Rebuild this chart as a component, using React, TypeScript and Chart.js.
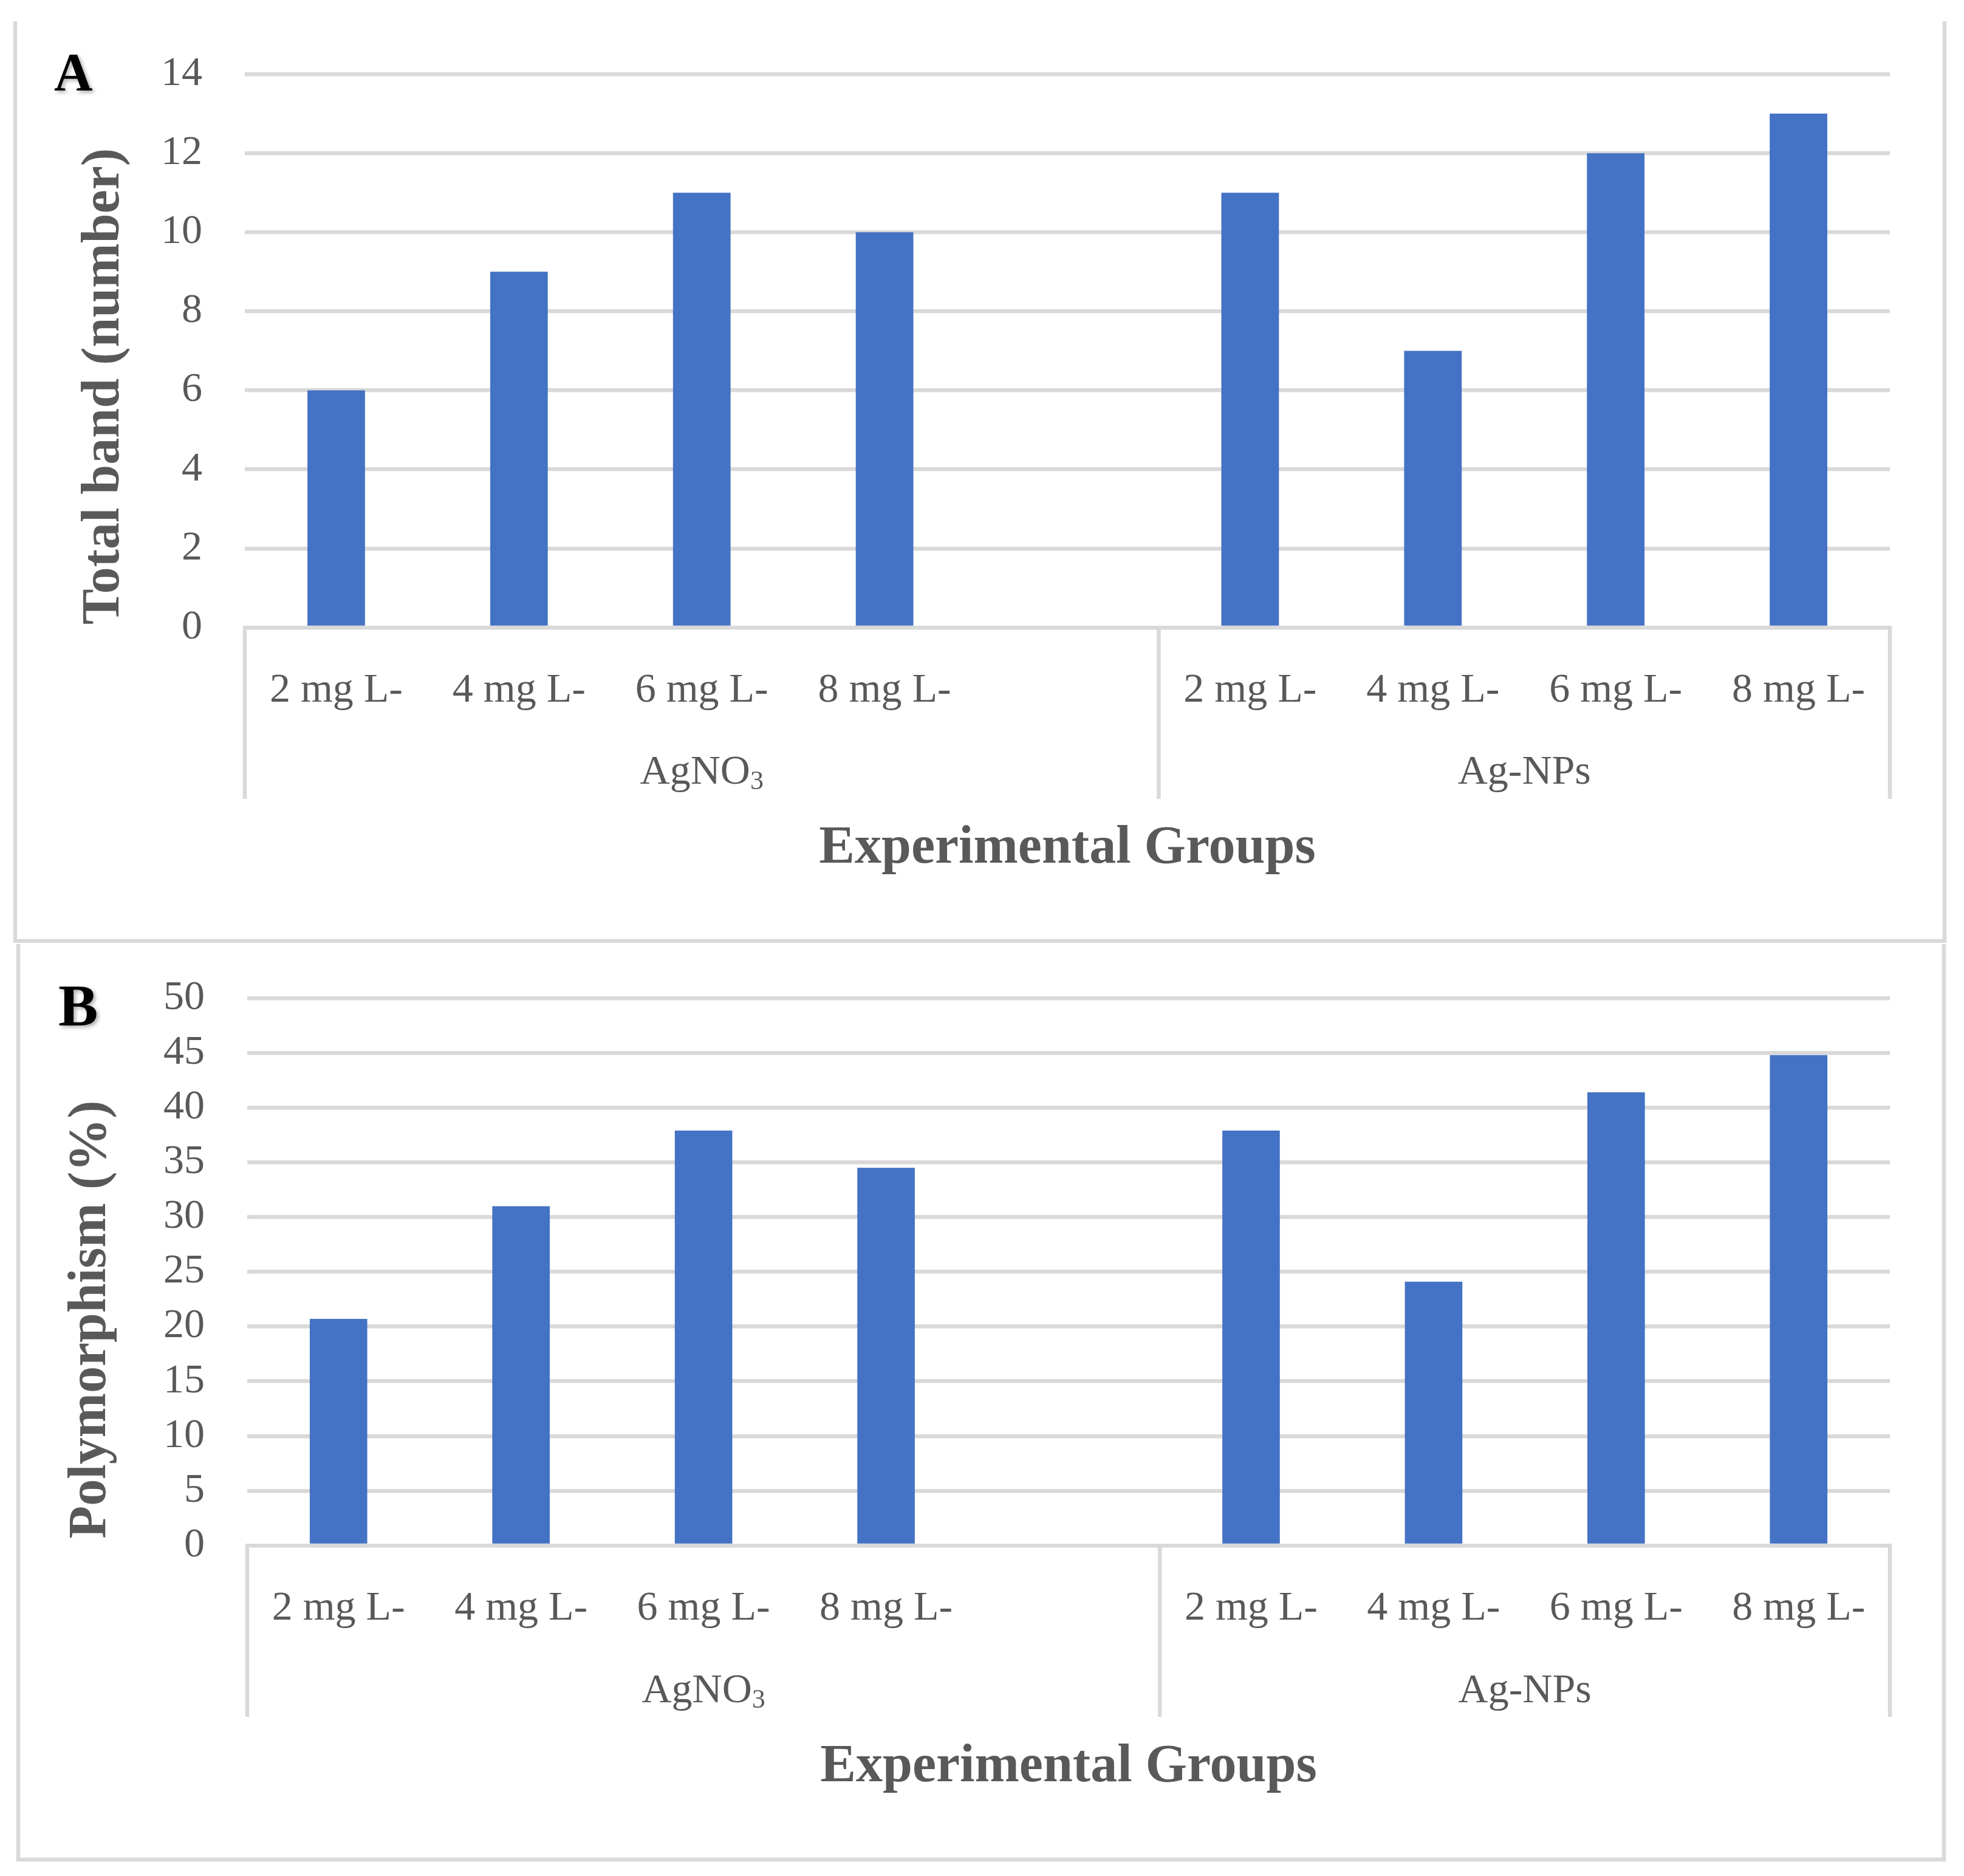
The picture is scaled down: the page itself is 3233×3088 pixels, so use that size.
import React, { useEffect, useRef } from "react";
import { Chart, registerables } from "chart.js";

Chart.register(...registerables);

// ---------- data ----------
const categories = ["2 mg L-", "4 mg L-", "6 mg L-", "8 mg L-", "", "2 mg L-", "4 mg L-", "6 mg L-", "8 mg L-"];
const groupNames = ["AgNO", "Ag-NPs"];
const groupSubscripts = ["3", ""];
const groupSizes = [5, 4];
const totalBand = [6, 9, 11, 10, null, 11, 7, 12, 13];
const polymorphism = [20.7, 31.0, 37.9, 34.5, null, 37.9, 24.1, 41.4, 44.8];
const yTicksA = [0, 2, 4, 6, 8, 10, 12, 14];
const yTicksB = [0, 5, 10, 15, 20, 25, 30, 35, 40, 45, 50];

const W = 3233;
const GRID = "#d9d9d9";
const TEXT = "#595959";
const BAR = "#4472C4";
const FONT = "'Liberation Serif', 'Times New Roman', serif";
const TICK_SIZE = 68;
const TITLE_SIZE = 88;

type Panel = {
  key: string;
  top: number;
  height: number;
  area: { left: number; right: number; top: number; bottom: number };
  ticks: number[];
  values: (number | null)[];
  yTitle: string;
  yTitleX: number;
  yTitleY: number;
  letter: string;
  letterX: number;
  letterBase: number;
  letterSize: number;
  groupBase: number;
  titleBase: number;
  sepLen: number;
  border: { left: number; right: number; top: number; bottom: number };
};

const panels: Panel[] = [
  {
    key: "A",
    top: 0,
    height: 1552,
    area: { left: 403, right: 3111, top: 122, bottom: 1033 },
    ticks: yTicksA,
    values: totalBand,
    yTitle: "Total band (number)",
    yTitleX: 195,
    yTitleY: 636,
    letter: "A",
    letterX: 89,
    letterBase: 148,
    letterSize: 88,
    groupBase: 1290,
    titleBase: 1420,
    sepLen: 282,
    border: { left: 25, right: 3201, top: 35, bottom: 1549 },
  },
  {
    key: "B",
    top: 1552,
    height: 1536,
    area: { left: 407, right: 3111, top: 91, bottom: 992 },
    ticks: yTicksB,
    values: polymorphism,
    yTitle: "Polymorphism (%)",
    yTitleX: 173,
    yTitleY: 620,
    letter: "B",
    letterX: 96,
    letterBase: 136,
    letterSize: 98,
    groupBase: 1250,
    titleBase: 1380,
    sepLen: 282,
    border: { left: 30, right: 3200, top: 2, bottom: 1509 },
  },
];

function decor(p: Panel) {
  return {
    id: "decor" + p.key,
    afterDraw(chart: any) {
      const ctx = chart.ctx as CanvasRenderingContext2D;
      const x = chart.scales.x;
      const { left, right, bottom } = chart.chartArea;
      ctx.save();
      // group separators
      ctx.strokeStyle = GRID;
      ctx.lineWidth = 6.5;
      const bounds: number[] = [x.getPixelForValue(-0.5)];
      let idx = 0;
      groupSizes.forEach((s) => {
        idx += s;
        bounds.push(x.getPixelForValue(idx - 0.5));
      });
      bounds.forEach((bx) => {
        ctx.beginPath();
        ctx.moveTo(bx, bottom - 3);
        ctx.lineTo(bx, bottom + p.sepLen);
        ctx.stroke();
      });
      // group labels
      ctx.fillStyle = TEXT;
      ctx.textBaseline = "alphabetic";
      ctx.textAlign = "left";
      groupNames.forEach((g, i) => {
        const cx = (bounds[i] + bounds[i + 1]) / 2;
        ctx.font = `${TICK_SIZE}px ${FONT}`;
        const w1 = ctx.measureText(g).width;
        ctx.font = `44px ${FONT}`;
        const w2 = groupSubscripts[i] ? ctx.measureText(groupSubscripts[i]).width : 0;
        const sx = cx - (w1 + w2) / 2;
        ctx.font = `${TICK_SIZE}px ${FONT}`;
        ctx.fillText(g, sx, p.groupBase);
        if (groupSubscripts[i]) {
          ctx.font = `44px ${FONT}`;
          ctx.fillText(groupSubscripts[i], sx + w1, p.groupBase + 9);
        }
      });
      // x title
      ctx.font = `bold ${TITLE_SIZE}px ${FONT}`;
      ctx.textAlign = "center";
      ctx.fillText("Experimental Groups", (left + right) / 2, p.titleBase);
      // y title
      ctx.save();
      ctx.translate(p.yTitleX, p.yTitleY);
      ctx.rotate(-Math.PI / 2);
      ctx.textAlign = "center";
      ctx.fillText(p.yTitle, 0, 0);
      ctx.restore();
      // panel letter
      ctx.save();
      ctx.font = `bold ${p.letterSize}px ${FONT}`;
      ctx.fillStyle = "#000000";
      ctx.textAlign = "left";
      ctx.shadowColor = "rgba(0,0,0,0.35)";
      ctx.shadowBlur = 6;
      ctx.shadowOffsetX = 3;
      ctx.shadowOffsetY = 3;
      ctx.fillText(p.letter, p.letterX, p.letterBase);
      ctx.restore();
      // outer border
      ctx.strokeStyle = GRID;
      ctx.lineWidth = 6.5;
      const b = p.border;
      ctx.beginPath();
      ctx.moveTo(b.left, b.top);
      ctx.lineTo(b.left, b.bottom);
      ctx.lineTo(b.right, b.bottom);
      ctx.lineTo(b.right, b.top);
      ctx.stroke();
      ctx.restore();
    },
  };
}

function PanelChart({ p }: { p: Panel }) {
  const ref = useRef<HTMLCanvasElement | null>(null);
  useEffect(() => {
    if (!ref.current) return;
    const chart = new Chart(ref.current, {
      type: "bar",
      data: {
        labels: categories,
        datasets: [
          {
            data: p.values as any,
            backgroundColor: BAR,
            borderWidth: 0,
            barPercentage: 0.315,
            categoryPercentage: 1,
          },
        ],
      },
      options: {
        animation: false,
        responsive: false,
        devicePixelRatio: 1,
        layout: { padding: { left: 0, right: W - p.area.right, top: p.area.top, bottom: 0 } },
        plugins: { legend: { display: false }, tooltip: { enabled: false }, title: { display: false } },
        scales: {
          x: {
            type: "category",
            offset: true,
            grid: { display: false },
            border: { display: false },
            ticks: {
              font: { family: FONT, size: TICK_SIZE },
              color: TEXT,
              padding: 55,
              maxRotation: 0,
              minRotation: 0,
              autoSkip: false,
            },
            afterFit(s: any) {
              s.height = p.height - p.area.bottom;
              s.paddingLeft = 0;
              s.paddingRight = 0;
            },
          },
          y: {
            min: p.ticks[0],
            max: p.ticks[p.ticks.length - 1],
            afterBuildTicks(s: any) {
              s.ticks = p.ticks.map((v) => ({ value: v }));
            },
            grid: { color: GRID, lineWidth: 6.5, drawTicks: false },
            border: { display: false },
            ticks: {
              font: { family: FONT, size: TICK_SIZE },
              color: TEXT,
              padding: 70,
            },
            afterFit(s: any) {
              s.width = p.area.left;
              s.paddingTop = 0;
              s.paddingBottom = 0;
            },
          },
        },
      },
      plugins: [decor(p)],
    } as any);
    return () => chart.destroy();
  }, [p]);
  return (
    <canvas
      ref={ref}
      width={W}
      height={p.height}
      style={{ position: "absolute", left: 0, top: p.top, width: W, height: p.height, display: "block" }}
    />
  );
}

export default function App() {
  return (
    <div style={{ position: "absolute", left: 0, top: 0, width: W, height: 3088, background: "#ffffff" }}>
      {panels.map((p) => (
        <PanelChart key={p.key} p={p} />
      ))}
    </div>
  );
}
